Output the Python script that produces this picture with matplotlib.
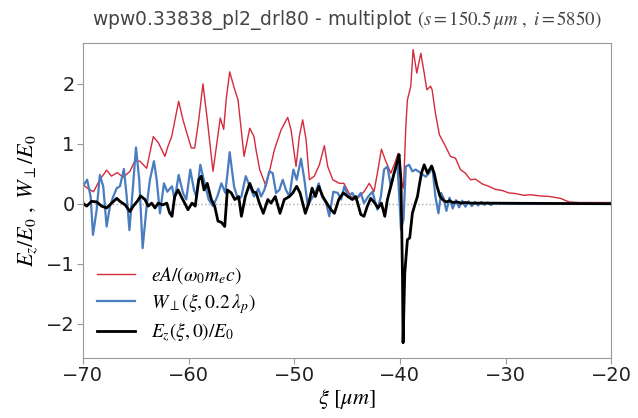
import matplotlib
matplotlib.use("Agg")
import matplotlib.pyplot as plt

plt.rcParams['mathtext.fontset'] = 'stix'

# eA/(w0 me c)
red_x = [-70.0, -69.5, -69.0, -68.4, -67.76, -67.3, -66.75, -66.2, -65.55, -65.1,
         -64.6, -63.97, -63.34, -62.87, -62.24, -61.95, -61.6, -60.94, -60.53, -60.22,
         -59.74, -59.42, -59.04, -58.64, -58.23, -57.69, -57.28, -57.0, -56.68, -56.43,
         -56.11, -55.63, -55.32, -54.75, -54.21, -53.81, -53.62, -53.27, -52.67, -51.88,
         -51.25, -50.62, -50.3, -49.83, -49.52, -49.2, -48.88, -48.57, -48.1, -47.62,
         -47.15, -46.83, -46.35, -45.73, -45.3, -44.65, -44.0, -43.4, -42.9, -42.45,
         -42.13, -41.75, -41.34, -40.86, -40.48, -40.17, -39.9, -39.66, -39.44, -39.29,
         -38.97, -38.75, -38.4, -38.02, -37.7, -37.45, -37.1, -36.95, -36.64, -36.26,
         -35.69, -35.22, -34.74, -34.27, -33.8, -33.32, -32.85, -32.2, -31.58, -30.96,
         -30.3, -29.69, -29.06, -28.27, -27.67, -26.7, -25.8, -24.8, -24.0, -23.0, -20.0]
red_y = [0.32, 0.25, 0.20, 0.40, 0.56, 0.46, 0.52, 0.44, 0.54, 0.71,
         0.71, 0.59, 1.12, 1.02, 0.79, 0.96, 1.12, 1.71, 1.40, 1.21,
         0.93, 0.93, 1.40, 2.00, 1.40, 0.54, 1.07, 1.43, 1.24, 1.76,
         2.20, 1.90, 1.73, 0.79, 1.26, 1.12, 0.90, 0.57, 0.29, 0.90,
         1.23, 1.44, 1.23, 0.62, 1.12, 1.40, 1.07, 0.40, 0.46, 0.65,
         0.97, 0.62, 0.40, 0.34, 0.34, 0.12, 0.09, 0.20, 0.34, 0.20,
         0.51, 0.91, 0.71, 0.51, 0.68, 0.84, 0.40, 0.26, 1.29, 1.73,
         1.96, 2.57, 2.18, 2.51, 2.18, 1.90, 1.96, 1.90, 1.51, 1.15,
         0.96, 0.79, 0.76, 0.57, 0.51, 0.40, 0.41, 0.33, 0.29, 0.24,
         0.22, 0.18, 0.17, 0.14, 0.15, 0.13, 0.12, 0.09, 0.03, 0.02, 0.02]

# W_perp(xi, 0.2 lambda_p)
blue_x = [-70.0, -69.6, -69.27, -69.05, -68.7, -68.4, -68.08, -67.76, -67.44, -67.13,
          -66.8, -66.5, -66.12, -65.86, -65.6, -65.24, -64.98, -64.67, -64.35, -63.97,
          -63.66, -63.28, -63.02, -62.71, -62.33, -62.02, -61.57, -61.32, -60.94, -60.53,
          -60.22, -59.84, -59.49, -59.27, -58.89, -58.48, -58.1, -57.69, -57.28, -56.9,
          -56.52, -56.11, -55.7, -55.32, -55.0, -54.59, -54.21, -53.81, -53.4, -53.14,
          -52.83, -52.36, -52.04, -51.72, -51.41, -51.09, -50.78, -50.46, -50.08, -49.77,
          -49.36, -49.04, -48.72, -48.41, -48.0, -47.68, -47.37, -46.99, -46.68, -46.3,
          -45.88, -45.57, -45.26, -44.9, -44.5, -44.17, -43.7, -43.4, -43.0, -42.6,
          -42.13, -41.8, -41.5, -41.18, -40.86, -40.55, -40.24, -40.08, -39.9, -39.66,
          -39.44, -39.13, -38.82, -38.5, -38.02, -37.55, -37.24, -36.93, -36.64, -36.35,
          -36.1, -35.88, -35.6, -35.3, -35.0, -34.7, -34.4, -34.1, -33.8, -33.5,
          -33.2, -32.9, -32.6, -32.3, -32.0, -31.7, -31.4, -31.0, -30.0, -20.0]
blue_y = [0.29, 0.40, 0.12, -0.52, -0.10, 0.48, 0.29, -0.38, -0.04, 0.12,
          0.26, 0.29, 0.58, 0.12, -0.44, 0.34, 0.94, 0.40, -0.74, -0.04,
          0.40, 0.71, 0.40, -0.16, 0.34, 0.20, 0.29, 0.07, 0.48, 0.18,
          0.07, 0.57, 0.23, 0.12, 0.65, 0.34, 0.07, -0.04, 0.12, 0.34,
          0.18, 0.86, 0.29, 0.07, 0.12, 0.46, 0.29, 0.12, 0.25, 0.12,
          0.23, 0.54, 0.51, 0.18, 0.23, 0.40, 0.23, 0.12, 0.57, 0.40,
          0.75, 0.40, -0.04, 0.07, 0.18, 0.34, 0.12, 0.01, -0.21, 0.20,
          0.18, 0.07, 0.29, 0.12, 0.18, 0.07, 0.18, 0.01, 0.12, 0.20,
          -0.10, 0.12, 0.57, 0.62, 0.29, 0.51, 0.68, 0.18, -0.43, -0.27,
          0.62, 0.65, 0.54, 0.57, 0.51, 0.45, 0.51, 0.62, 0.12, -0.16,
          0.18, 0.10, -0.12, 0.10, -0.08, 0.06, -0.06, 0.05, -0.05, 0.04,
          -0.04, 0.03, -0.03, 0.03, -0.02, 0.02, -0.02, 0.01, 0.0, 0.0]

# E_z(xi, 0)/E_0
black_x = [-70.0, -69.65, -69.18, -68.7, -68.23, -67.76, -67.28, -66.8, -66.5, -66.0,
           -65.55, -65.24, -64.86, -64.54, -64.13, -63.82, -63.5, -63.18, -62.87, -62.45,
           -62.07, -61.8, -61.57, -61.32, -61.0, -60.7, -60.37, -60.06, -59.68, -59.37,
           -59.04, -58.8, -58.54, -58.23, -57.85, -57.53, -57.22, -56.9, -56.58, -56.33,
           -55.96, -55.63, -55.26, -55.0, -54.63, -54.21, -53.9, -53.6, -53.3, -52.93,
           -52.5, -52.2, -51.79, -51.35, -50.94, -50.46, -50.14, -49.77, -49.45, -48.95,
           -48.63, -48.31, -48.0, -47.68, -47.3, -46.92, -46.52, -46.2, -45.79, -45.35,
           -44.93, -44.5, -44.17, -43.7, -43.4, -43.08, -42.76, -42.38, -42.07, -41.75,
           -41.43, -41.18, -40.86, -40.55, -40.24, -40.08, -39.9, -39.76, -39.7, -39.54,
           -39.29, -39.07, -38.82, -38.59, -38.34, -38.18, -37.96, -37.7, -37.39, -37.0,
           -36.76, -36.5, -36.2, -35.9, -35.6, -35.3, -35.0, -34.6, -34.2, -33.8,
           -33.3, -32.0, -20.0]
black_y = [0.01, -0.04, 0.04, 0.03, -0.04, -0.07, 0.01, 0.09, 0.04, -0.02,
           -0.13, -0.04, 0.04, 0.13, 0.07, -0.04, 0.01, -0.07, 0.01, -0.02,
           0.01, -0.15, -0.21, 0.12, 0.23, 0.12, 0.01, -0.10, 0.01, -0.04,
           0.40, 0.46, 0.23, 0.34, 0.07, -0.04, -0.29, -0.31, -0.38, 0.23,
           0.18, 0.07, 0.12, -0.21, 0.12, 0.34, 0.20, 0.18, 0.01, -0.16,
           0.07, 0.01, 0.12, -0.16, 0.07, 0.12, 0.18, 0.29, 0.18, -0.16,
           0.01, 0.26, 0.12, 0.29, 0.12, 0.01, -0.10, -0.16, 0.07, 0.18,
           0.12, 0.07, 0.12, -0.18, -0.21, -0.04, 0.09, 0.01, -0.07, 0.01,
           -0.21, 0.07, 0.29, 0.51, 0.71, 0.82, 0.40, -1.16, -2.32, -1.16,
           -0.60, -0.57, -0.16, -0.02, 0.12, 0.29, 0.51, 0.65, 0.51, 0.63,
           0.51, 0.30, 0.12, 0.06, 0.03, 0.05, 0.02, 0.03, 0.01, 0.02,
           0.01, 0.01, 0.0]

fig = plt.figure(figsize=(6.38, 4.18), dpi=100)
ax = fig.add_axes([0.130, 0.144, 0.828, 0.753])

ax.axhline(0, color='#aaaaaa', linestyle=':', linewidth=1.0, zorder=0)
ax.plot(red_x, red_y, color='#d42a3c', linewidth=1.0, label=r'$eA/(\omega_0 m_e c)$')
ax.plot(blue_x, blue_y, color='#4a7cc0', linewidth=1.6, label=r'$W_\perp(\xi, 0.2\,\lambda_p)$')
ax.plot(black_x, black_y, color='black', linewidth=2.0, label=r'$E_z(\xi,0)/E_0$')

ax.set_xlim(-70, -20)
ax.set_ylim(-2.57, 2.68)
ax.set_xticks([-70, -60, -50, -40, -30, -20])
ax.set_yticks([-2, -1, 0, 1, 2])
ax.tick_params(labelsize=14, color='#999999', length=4, width=0.8, pad=2,
               labelcolor='#222222')
for s in ax.spines.values():
    s.set_color('#999999')
    s.set_linewidth(0.8)

ax.set_xlabel(r'$\xi\ [\mu m]$', fontsize=16, labelpad=1)
ax.set_ylabel(r'$E_z/E_0\ ,\ W_\perp/E_0$', fontsize=16, labelpad=4)
ax.set_title(r'wpw0.33838_pl2_drl80 - multiplot $(s=150.5\,\mu m\ ,\ i=5850)$',
             fontsize=13.5, color='#444444', pad=13)

ax.legend(loc='lower left', frameon=False, fontsize=14, handlelength=2.0,
          labelspacing=0.25, borderaxespad=0.3, bbox_to_anchor=(0.0, 0.0))

fig.savefig('out.png', dpi=100)
